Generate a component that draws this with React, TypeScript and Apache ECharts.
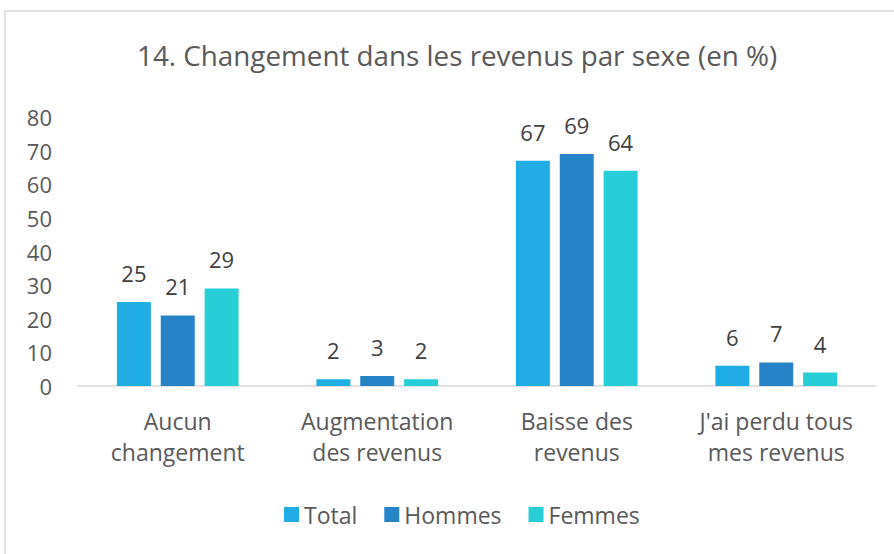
import React, { useEffect, useRef } from "react";
import * as echarts from "echarts";

const categories = ["Aucun\nchangement", "Augmentation\ndes revenus", "Baisse des\nrevenus", "J'ai perdu tous\nmes revenus"];
const seriesNames = ["Total", "Hommes", "Femmes"];
const totalValues = [25, 2, 67, 6];
const hommesValues = [21, 3, 69, 7];
const femmesValues = [29, 2, 64, 4];
const yTicks = [0, 10, 20, 30, 40, 50, 60, 70, 80];

const colors = ["#1fade4", "#2683c6", "#27ced7"];
const FONT = "Open Sans";

export default function App() {
  const ref = useRef<HTMLDivElement>(null);
  useEffect(() => {
    if (!ref.current) return;
    const chart = echarts.init(ref.current, undefined, { renderer: "svg" });
    const values = [totalValues, hommesValues, femmesValues];
    chart.setOption({
      animation: false,
      backgroundColor: "#ffffff",
      textStyle: { fontFamily: FONT },
      title: {
        text: "14. Changement dans les revenus par sexe (en %)",
        left: 137,
        top: 41,
        padding: 0,
        textStyle: { fontFamily: FONT, fontSize: 27.8, fontWeight: "normal", color: "#595959" },
      },
      graphic: [
        {
          type: "rect",
          shape: { x: 5, y: 11, width: 900, height: 560 },
          style: { fill: "none", stroke: "#d9d9d9", lineWidth: 1.5 },
          silent: true,
          z: -1,
        },
      ],
      legend: {
        data: seriesNames,
        bottom: 23,
        left: 279,
        itemWidth: 15,
        itemHeight: 15,
        itemGap: 27,
        icon: "rect",
        textStyle: { fontFamily: FONT, fontSize: 23, color: "#595959" },
      },
      grid: { left: 78, right: 18, top: 117, bottom: 168 },
      xAxis: {
        type: "category",
        data: categories,
        axisLine: { show: true, lineStyle: { color: "#d9d9d9", width: 1.5 } },
        axisTick: { show: false },
        axisLabel: { fontFamily: FONT, fontSize: 23, color: "#595959", lineHeight: 31, margin: 19 },
      },
      yAxis: {
        type: "value",
        min: yTicks[0],
        max: yTicks[yTicks.length - 1],
        interval: 10,
        axisLine: { show: false },
        axisTick: { show: false },
        splitLine: { show: false },
        axisLabel: { fontFamily: FONT, fontSize: 22, color: "#595959", margin: 26 },
      },
      series: seriesNames.map((name, i) => ({
        name,
        type: "bar",
        data: values[i],
        barWidth: 34,
        barGap: "29%",
        itemStyle: { color: colors[i] },
        label: {
          show: true,
          position: "top",
          distance: 18,
          fontFamily: FONT,
          fontSize: 22,
          color: "#404040",
        },
      })),
    });
    return () => chart.dispose();
  }, []);
  return <div ref={ref} style={{ position: "fixed", left: 0, top: 0, width: 894, height: 554 }} />;
}
